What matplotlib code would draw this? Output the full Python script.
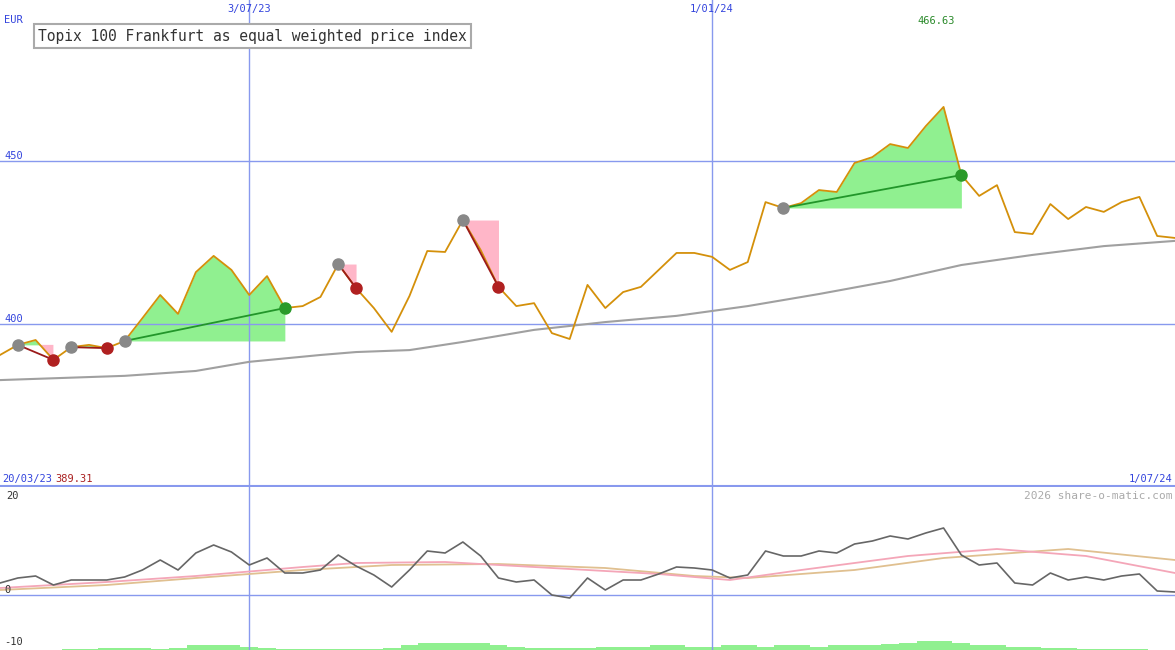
import numpy as np
import matplotlib
matplotlib.use("Agg")
import matplotlib.pyplot as plt

# weekly closes, 20/03/23 .. early 07/24
price = [390.5, 393.6, 395.1, 389.0, 392.9, 393.6, 392.6, 394.8, 401.8, 408.9,
         403.1, 415.9, 420.9, 416.6, 408.9, 414.7, 404.9, 405.5, 408.3, 418.4,
         411.0, 404.9, 397.6, 408.6, 422.4, 422.1, 431.9, 422.7, 411.4, 405.5,
         406.4, 397.2, 395.4, 412.0, 404.9, 409.8, 411.4, 416.6, 421.8, 421.8,
         420.6, 416.6, 419.0, 437.4, 435.6, 437.1, 441.1, 440.5, 449.4, 451.2,
         455.2, 454.0, 460.7, 466.6, 445.7, 439.3, 442.6, 428.2, 427.6, 436.8,
         432.2, 435.9, 434.4, 437.4, 439.0, 427.0, 426.4]
ma_weeks = [0, 7, 11, 14, 18, 20, 23, 26, 30, 34, 38, 42, 46, 50, 54, 58, 62, 66]
ma_vals = [382.8, 384.1, 385.6, 388.4, 390.5, 391.4, 392.0, 394.5, 398.2, 400.6,
           402.5, 405.5, 409.2, 413.2, 418.1, 421.2, 423.9, 425.5]

# trades: (entry week, exit week)
trades = [(1, 3), (4, 6), (7, 16), (19, 20), (26, 28), (44, 54)]

osc = [2.4, 3.4, 3.8, 2.0, 3.0, 3.0, 3.0, 3.6, 5.0, 7.0, 5.0, 8.4, 10.0, 8.6, 6.0,
       7.4, 4.4, 4.4, 5.0, 8.0, 5.8, 4.0, 1.6, 5.0, 8.8, 8.4, 10.6, 7.8, 3.4, 2.6,
       3.0, 0.0, -0.6, 3.4, 1.0, 3.0, 3.0, 4.2, 5.6, 5.4, 5.0, 3.4, 4.0, 8.8, 7.8,
       7.8, 8.8, 8.4, 10.2, 10.8, 11.8, 11.2, 12.4, 13.4, 8.0, 6.0, 6.4, 2.4, 2.0,
       4.4, 3.0, 3.6, 3.0, 3.8, 4.2, 0.8, 0.6]
pink_weeks = [0, 6, 11, 17, 20, 25, 31, 37, 41, 45, 51, 56, 61, 66]
pink_vals = [1.4, 2.6, 3.8, 5.6, 6.4, 6.6, 5.4, 4.2, 3.0, 5.0, 7.8, 9.2, 7.8, 4.4]
tan_weeks = [0, 6, 11, 17, 22, 28, 34, 39, 42, 48, 53, 60, 66]
tan_vals = [1.0, 2.0, 3.4, 5.0, 6.0, 6.2, 5.4, 3.8, 3.4, 5.0, 7.4, 9.2, 7.0]
volume = [0, 0, 0, 0, 0.3, 0.3, 0.5, 0.5, 0.5, 0.3, 0.5, 1.0, 1.0, 1.0, 0.7, 0.5,
          0.3, 0.3, 0.3, 0.3, 0.3, 0.3, 0.5, 1.0, 1.4, 1.4, 1.4, 1.4, 1.0, 0.7,
          0.5, 0.5, 0.5, 0.5, 0.7, 0.7, 0.7, 1.0, 1.0, 0.7, 0.7, 1.0, 1.0, 0.7,
          1.0, 1.0, 0.7, 1.0, 1.0, 1.0, 1.2, 1.4, 1.8, 1.8, 1.4, 1.0, 1.0, 0.7,
          0.7, 0.5, 0.5, 0.3, 0.3, 0.3, 0.3, 0, 0]

weeks = np.arange(len(price))
price = np.array(price)
grid = "#8899ee"
blue = "#3344dd"
mono = "DejaVu Sans Mono"

fig = plt.figure(figsize=(11.75, 6.5), dpi=100)
ax = fig.add_axes([0, 163 / 650, 1, 487 / 650])
ax2 = fig.add_axes([0, 0, 1, 163 / 650])
for a in (ax, ax2):
    a.set_xlim(0, 66)
    a.set_axis_off()
    for w in (14, 40):
        a.axvline(w, color=grid, lw=1)
ax.set_ylim(350, 499.4)
ax2.set_ylim(-11, 21.6)

for lvl in (400, 450):
    ax.axhline(lvl, color=grid, lw=1)
ax.axhline(350.3, color=grid, lw=1.5)
ax2.axhline(0, color=grid, lw=1)

for e, x in trades:
    seg = weeks[e:x + 1]
    p = price[e:x + 1]
    ax.fill_between(seg, p, price[e], where=p >= price[e], color="#90f090", interpolate=True, lw=0)
    ax.fill_between(seg, p, price[e], where=p <= price[e], color="#ffb6c8", interpolate=True, lw=0)

ax.plot(ma_weeks, ma_vals, color="#a0a0a0", lw=1.5)
ax.plot(weeks, price, color="#d4900a", lw=1.3)

for e, x in trades:
    win = price[x] > price[e]
    ax.plot([e, x], [price[e], price[x]], color="#22962a" if win else "#9b1a1a", lw=1.3)
    ax.plot(e, price[e], "o", color="#888888", ms=8)
    ax.plot(x, price[x], "o", color="#2a9a2a" if win else "#b02020", ms=8)

ax2.bar(weeks, volume, bottom=-11, width=1.0, color="#90f090")
ax2.plot(tan_weeks, tan_vals, color="#e0c090", lw=1.3)
ax2.plot(pink_weeks, pink_vals, color="#f4a6b8", lw=1.3)
ax2.plot(weeks, osc, color="#666666", lw=1.2)

def ftext(x, y, s, color=blue, ha="left", size=7.5):
    fig.text(x / 1175, 1 - y / 650, s, color=color, ha=ha, va="center", fontsize=size, family=mono)

ftext(4, 20, "EUR")
ftext(4, 156, "450")
ftext(4, 319, "400")
ftext(249, 9, "3/07/23", ha="center")
ftext(712, 9, "1/01/24", ha="center")
ftext(936, 21, "466.63", color="#2a8a2a", ha="center")
ftext(2, 479, "20/03/23")
ftext(55, 479, "389.31", color="#aa2020")
ftext(1172, 479, "1/07/24", ha="right")
ftext(1172, 496, "2026 share-o-matic.com", color="#aaaaaa", ha="right", size=8)
ftext(6, 496, "20", color="#333333")
ftext(4, 590, "0", color="#333333")
ftext(4, 642, "-10", color="#333333")
fig.text(38 / 1175, 1 - 36 / 650, "Topix 100 Frankfurt as equal weighted price index",
         fontsize=10.5, family=mono, color="#333333", va="center",
         bbox=dict(facecolor="white", edgecolor="#aaaaaa", boxstyle="square,pad=0.3", lw=1.5))

fig.savefig("out.png", dpi=100)
